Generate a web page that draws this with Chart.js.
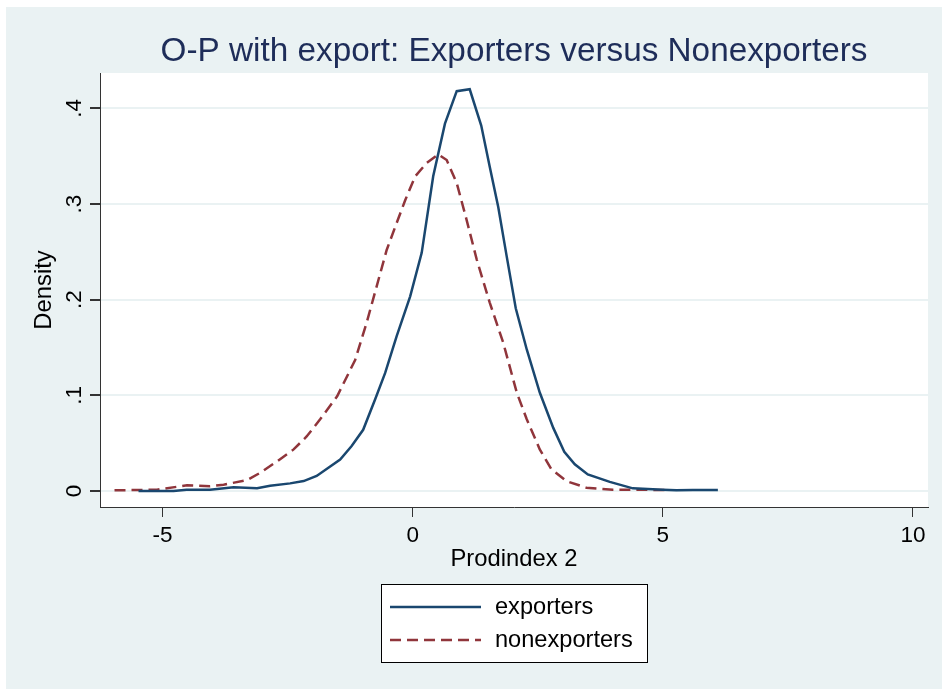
<!DOCTYPE html>
<html>
<head>
<meta charset="utf-8">
<script src="https://cdn.jsdelivr.net/npm/chart.js@4.4.1/dist/chart.umd.min.js"></script>
<style>
  html, body { margin: 0; padding: 0; background: #fff; }
  canvas { display: block; }
</style>
</head>
<body>
<canvas id="grafico" width="942" height="690"></canvas>
<script>
// datos (kdensity)
const exportX = [-5.48, -4.78, -4.52, -4.05, -3.58, -3.11, -2.85, -2.45, -2.18, -1.92, -1.45, -1.22, -0.99, -0.75, -0.55, -0.32, -0.05, 0.18, 0.41, 0.645, 0.88, 1.14, 1.37, 1.54, 1.71, 1.88, 2.06, 2.28, 2.54, 2.81, 3.03, 3.24, 3.50, 3.94, 4.40, 5.0, 5.27, 5.6, 6.1];
const exportY = [0.0, 0.0, 0.0014, 0.0014, 0.004, 0.003, 0.0056, 0.008, 0.0104, 0.0157, 0.033, 0.047, 0.064, 0.096, 0.1235, 0.162, 0.2035, 0.249, 0.329, 0.384, 0.418, 0.42, 0.382, 0.339, 0.297, 0.245, 0.191, 0.148, 0.103, 0.066, 0.041, 0.028, 0.0174, 0.0096, 0.0028, 0.0014, 0.0007, 0.001, 0.001];

const nonexportX = [-5.96, -5.11, -4.51, -4.05, -3.78, -3.31, -3.05, -2.71, -2.38, -2.12, -1.85, -1.51, -1.15, -0.92, -0.72, -0.52, -0.35, -0.15, 0.05, 0.28, 0.51, 0.68, 0.88, 1.08, 1.28, 1.54, 1.81, 2.08, 2.28, 2.54, 2.77, 3.07, 3.47, 4.0, 4.54, 5.04];
const nonexportY = [0.0007, 0.0014, 0.006, 0.005, 0.0066, 0.0115, 0.019, 0.031, 0.0435, 0.057, 0.075, 0.099, 0.137, 0.176, 0.214, 0.252, 0.276, 0.304, 0.329, 0.343, 0.352, 0.346, 0.322, 0.283, 0.242, 0.197, 0.155, 0.103, 0.075, 0.0435, 0.023, 0.0104, 0.0035, 0.0014, 0.0014, 0.001];

const seriesNames = ["exporters", "nonexporters"];
const xTicks = [-5, 0, 5, 10];
const yTicks = [0, 0.1, 0.2, 0.3, 0.4];

const titulo = "O-P with export: Exporters versus Nonexporters";
const tituloX = "Prodindex 2";
const tituloY = "Density";

const FONT = "'Liberation Sans', Arial, Helvetica, sans-serif";
const AZUL = "#1a476f";
const ROJO = "#90353b";
const FONDO = "#eaf2f3";

const toPoints = (xs, ys) => xs.map((x, i) => ({ x: x, y: ys[i] }));

// 🔹 fondo, título, títulos de ejes y leyenda
const estiloStata = {
  id: "estiloStata",
  beforeDraw(chart) {
    const ctx = chart.ctx;
    const a = chart.chartArea;
    ctx.save();
    ctx.fillStyle = "#ffffff";
    ctx.fillRect(0, 0, chart.width, chart.height);
    ctx.fillStyle = FONDO;
    ctx.fillRect(6, 7, chart.width - 6, chart.height - 8);
    ctx.fillStyle = "#ffffff";
    ctx.fillRect(a.left, a.top, a.right - a.left, a.bottom - a.top);
    ctx.restore();
  },
  afterDraw(chart) {
    const ctx = chart.ctx;
    const a = chart.chartArea;
    const cx = (a.left + a.right) / 2;
    ctx.save();

    // título
    ctx.fillStyle = "#1e2d59";
    ctx.font = "33.3px " + FONT;
    ctx.textAlign = "center";
    ctx.textBaseline = "middle";
    ctx.fillText(titulo, cx, 52);

    // títulos de ejes
    ctx.fillStyle = "#000";
    ctx.font = "23.8px " + FONT;
    ctx.fillText(tituloX, cx, 559);
    ctx.save();
    ctx.translate(44, 290);
    ctx.rotate(-Math.PI / 2);
    ctx.fillText(tituloY, 0, 0);
    ctx.restore();

    // leyenda
    const box = { x: 381, y: 584.5, w: 266, h: 78 };
    ctx.fillStyle = "#ffffff";
    ctx.fillRect(box.x, box.y, box.w, box.h);
    ctx.strokeStyle = "#000";
    ctx.lineWidth = 1;
    ctx.strokeRect(box.x + 0.5, box.y, box.w, box.h);
    const filas = [607, 640];
    chart.data.datasets.forEach((ds, i) => {
      ctx.strokeStyle = ds.borderColor;
      ctx.lineWidth = ds.borderWidth;
      ctx.setLineDash(ds.borderDash || []);
      ctx.beginPath();
      ctx.moveTo(390, filas[i]);
      ctx.lineTo(481, filas[i]);
      ctx.stroke();
      ctx.setLineDash([]);
      ctx.fillStyle = "#000";
      ctx.font = "23.6px " + FONT;
      ctx.textAlign = "left";
      ctx.fillText(ds.label, 495, filas[i]);
    });
    ctx.restore();
  }
};

const ctx = document.getElementById("grafico").getContext("2d");

new Chart(ctx, {
  type: "scatter",
  data: {
    datasets: [
      {
        label: seriesNames[0],
        data: toPoints(exportX, exportY),
        showLine: true,
        borderColor: AZUL,
        borderWidth: 2.5,
        pointRadius: 0,
        tension: 0
      },
      {
        label: seriesNames[1],
        data: toPoints(nonexportX, nonexportY),
        showLine: true,
        borderColor: ROJO,
        borderWidth: 2.5,
        borderDash: [11, 6],
        pointRadius: 0,
        tension: 0
      }
    ]
  },
  options: {
    responsive: false,
    animation: false,
    devicePixelRatio: 1,
    layout: { padding: { top: 73, right: 14, left: 0, bottom: 0 } },
    plugins: {
      legend: { display: false },
      tooltip: { enabled: false },
      title: { display: false }
    },
    scales: {
      x: {
        type: "linear",
        min: -6.25,
        max: 10.3,
        afterBuildTicks: s => { s.ticks = xTicks.map(v => ({ value: v })); },
        afterFit: s => { s.height = 183; },
        grid: { drawOnChartArea: false, drawTicks: true, tickLength: 10, tickColor: "#333", lineWidth: 1 },
        border: { display: true, color: "#333", width: 1 },
        ticks: { color: "#000", font: { family: FONT, size: 22.5 }, padding: 5, maxRotation: 0, minRotation: 0 }
      },
      y: {
        type: "linear",
        min: -0.0167,
        max: 0.437,
        afterBuildTicks: s => { s.ticks = yTicks.map(v => ({ value: v })); },
        afterFit: s => { s.width = 100; },
        grid: { color: FONDO, lineWidth: 2, drawTicks: true, tickLength: 10, tickColor: "#333" },
        border: { display: true, color: "#333", width: 1 },
        ticks: {
          color: "#000",
          font: { family: FONT, size: 22.5 },
          minRotation: 90,
          maxRotation: 90,
          crossAlign: "center",
          padding: 6,
          callback: v => v === 0 ? "0" : v.toFixed(1).replace(/^0/, "")
        }
      }
    }
  },
  plugins: [estiloStata]
});
</script>
</body>
</html>
